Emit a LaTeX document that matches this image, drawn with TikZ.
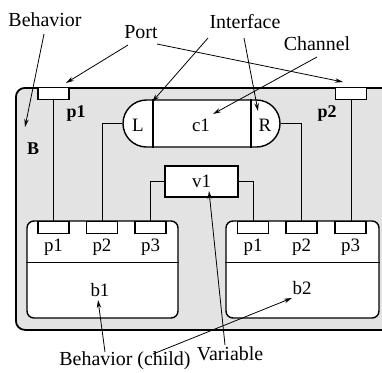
\documentclass[tikz,border=0pt]{standalone}
\usepackage{fontspec}
\setmainfont{Liberation Serif}
\usetikzlibrary{arrows.meta,shapes.misc,calc}
\begin{document}
\begin{tikzpicture}[x=1bp,y=-1bp,
  annot/.style={font=\fontsize{20}{22}\selectfont, inner sep=0pt},
  lbl/.style={font=\fontsize{19}{21}\selectfont, inner sep=0pt},
  blbl/.style={font=\fontsize{18}{20}\selectfont\bfseries, inner sep=0pt},
  outerbox/.style={draw, line width=1.8pt, fill=black!11, rounded corners=9bp, anchor=north west, inner sep=0pt},
  childbox/.style={draw, line width=1.4pt, fill=white, rounded corners=7bp, inner sep=0pt},
  portbox/.style={draw, line width=1.1pt, fill=white, minimum width=31bp, minimum height=12bp, anchor=north, inner sep=0pt},
  wire/.style={line width=0.9pt},
  pointer/.style={line width=0.8pt, -{Stealth[length=8bp,width=4.5bp]}}]
\useasboundingbox (0,0) rectangle (382,373);
\clip (0,0) rectangle (382,373);
\fill[white] (0,0) rectangle (382,373);

% outer behavior B
\node[outerbox, minimum width=390bp, minimum height=242bp] (B) at (15,87) {};
\node[portbox] (P1) at (53.5,87) {};
\node[portbox] (P2) at (351,87) {};
\node[blbl] (P1l) at (76,113) {p1};
\node[blbl] (P2l) at (327,113) {p2};
\node[blbl] (Bl) at (33,149) {B};

% channel
\node[draw, line width=1.4pt, fill=white, rounded rectangle, minimum width=157bp, minimum height=47bp, inner sep=0pt] (c1) at (201.5,123.5) {};
\draw[line width=1.1pt] ([xshift=-48.5bp]c1.north) -- ([xshift=-48.5bp]c1.south);
\draw[line width=1.1pt] ([xshift=49.5bp]c1.north) -- ([xshift=49.5bp]c1.south);
\node[lbl] (Ll) at (138,125) {L};
\node[lbl] (cl) at (201,125) {c1};
\node[lbl] (Rl) at (265,125) {R};

% variable
\node[draw, line width=1.1pt, fill=white, minimum width=73bp, minimum height=31bp, inner sep=0pt] (v1) at (201.5,181.5) {};
\node[lbl] (vl) at (201.5,181) {v1};

% child b1
\node[childbox, minimum width=151bp, minimum height=97bp] (b1) at (102.5,269.5) {};
\draw[line width=1.1pt] ([yshift=-42bp]b1.north west) -- ([yshift=-42bp]b1.north east);
\node[portbox] (b1p1) at (53.5,221) {};
\node[portbox] (b1p2) at (102,221) {};
\node[portbox] (b1p3) at (150.5,221) {};
\node[lbl] at (53.5,247) {p1};
\node[lbl] at (102,247) {p2};
\node[lbl] at (150.5,247) {p3};
\node[lbl] (b1l) at (100,290) {b1};

% child b2
\node[childbox, minimum width=153bp, minimum height=97bp] (b2) at (302.5,269.5) {};
\draw[line width=1.1pt] ([yshift=-42bp]b2.north west) -- ([yshift=-42bp]b2.north east);
\node[portbox] (b2p1) at (253,221) {};
\node[portbox] (b2p2) at (301.5,221) {};
\node[portbox] (b2p3) at (350.5,221) {};
\node[lbl] at (253,247) {p1};
\node[lbl] at (301.5,247) {p2};
\node[lbl] at (350.5,247) {p3};
\node[lbl] (b2l) at (302,288) {b2};

% wires
\draw[wire] (P1.south) -- (b1p1.north);
\draw[wire] (P2.south) -- (P2.south |- b2p3.north);
\draw[wire] (c1.west) -| (b1p2.north);
\draw[wire] (c1.east) -| (b2p2.north);
\draw[wire] (v1.west) -| (b1p3.north);
\draw[wire] (v1.east) -| (b2p1.north);

% annotations
\node[annot] (tBeh) at (45,20) {Behavior};
\node[annot] (tPort) at (141,32) {Port};
\node[annot] (tIf) at (245,22) {Interface};
\node[annot] (tCh) at (317,44) {Channel};
\node[annot] (tChild) at (125,361) {Behavior (child)};
\node[annot] (tVar) at (230,354) {Variable};

\coordinate (aB) at (25,127);
\coordinate (aP1) at (66,83);
\coordinate (aP2) at (343,82);
\coordinate (aL) at (152,102);
\coordinate (aR) at (258,111);
\coordinate (aC) at (213,114);
\coordinate (ab1) at (98,300);
\coordinate (ab2) at (292,298);
\coordinate (av) at (209,191);

\draw[pointer] (44,34) -- (aB);
\draw[pointer] (128,45) -- (aP1);
\draw[pointer] (157,44) -- (aP2);
\draw[pointer] (208,38) -- (aL);
\draw[pointer] (244,38) -- (aR);
\draw[pointer] (317,57) -- (aC);
\draw[pointer] (105,352) -- (ab1);
\draw[pointer] (153,354) -- (ab2);
\draw[pointer] (225,345) -- (av);
\end{tikzpicture}
\end{document}
